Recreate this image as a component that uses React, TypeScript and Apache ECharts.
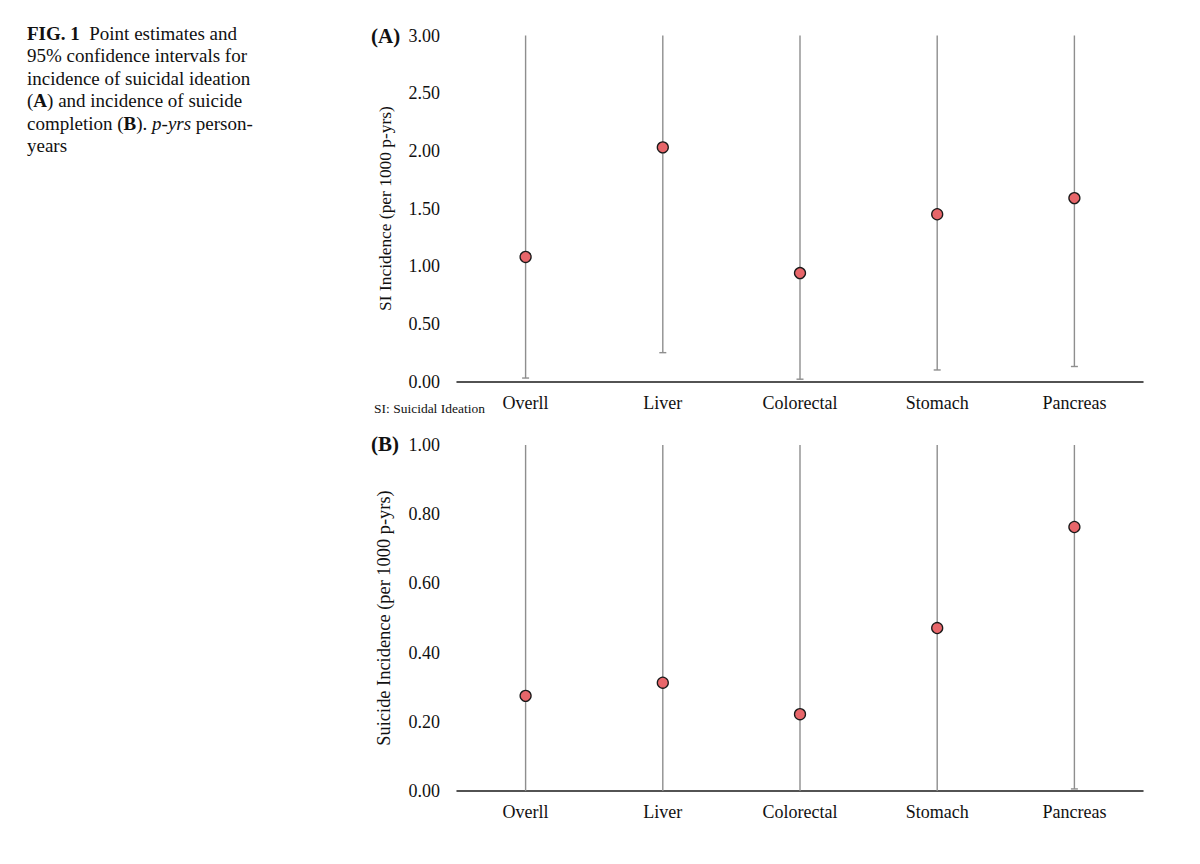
import React, { useEffect, useRef } from "react";
import * as echarts from "echarts";

const categories = ["Overll", "Liver", "Colorectal", "Stomach", "Pancreas"];

// Panel A: suicidal ideation incidence (per 1000 p-yrs)
const siEstimate = [1.08, 2.03, 0.94, 1.45, 1.59];
const siLower = [0.03, 0.25, 0.02, 0.1, 0.13];
// upper bounds exceed the axis maximum (drawn to the top of the plot)
const siUpper = [4.0, 4.0, 4.0, 4.0, 4.0];
const siTicks = [0, 0.5, 1.0, 1.5, 2.0, 2.5, 3.0];

// Panel B: suicide completion incidence (per 1000 p-yrs)
const scEstimate = [0.275, 0.313, 0.222, 0.471, 0.763];
const scLower = [0, 0, 0, 0, 0.006];
// upper bounds exceed the axis maximum (drawn to the top of the plot)
const scUpper = [1.4, 1.4, 1.4, 1.4, 1.4];
const scTicks = [0, 0.2, 0.4, 0.6, 0.8, 1.0];

// Figure caption: segments of [text, style] where style is n (normal), b (bold), i (italic)
const captionLines: [string, string][][] = [
  [["FIG. 1", "b"], ["  Point estimates and", "n"]],
  [["95% confidence intervals for", "n"]],
  [["incidence of suicidal ideation", "n"]],
  [["(", "n"], ["A", "b"], [") and incidence of suicide", "n"]],
  [["completion (", "n"], ["B", "b"], ["). ", "n"], ["p-yrs", "i"], [" person-", "n"]],
  [["years", "n"]],
];

const FONT = "Liberation Serif";
const CAP_SIZE = 19;
const CAP_LINE = 22.5;

function errorSeries(xIdx: number, lower: number[], upper: number[]) {
  return {
    type: "custom",
    xAxisIndex: xIdx,
    yAxisIndex: xIdx,
    z: 1,
    data: categories.map((_, i) => [i, lower[i], upper[i]]),
    renderItem: (params: any, api: any) => {
      const x = api.coord([api.value(0), 0])[0];
      const lo = api.coord([api.value(0), api.value(1)])[1];
      const hi = api.coord([api.value(0), api.value(2)])[1];
      const cs = params.coordSys;
      const top = Math.max(hi, cs.y);
      const bottom = Math.min(lo, cs.y + cs.height);
      const style = { stroke: "#8e8e8e", lineWidth: 1.4 };
      const children: any[] = [
        { type: "line", shape: { x1: x, y1: top, x2: x, y2: bottom }, style },
      ];
      if (lo < cs.y + cs.height - 0.5) {
        children.push({
          type: "line",
          shape: { x1: x - 3.5, y1: lo, x2: x + 3.5, y2: lo },
          style,
        });
      }
      return { type: "group", children };
    },
  };
}

function pointSeries(idx: number, values: number[]) {
  return {
    type: "scatter",
    xAxisIndex: idx,
    yAxisIndex: idx,
    z: 3,
    symbol: "circle",
    symbolSize: 11,
    itemStyle: { color: "#e8666a", borderColor: "#1a1a1a", borderWidth: 1.3, opacity: 1 },
    data: values.map((v, i) => [i, v]),
  };
}

function xAxis(idx: number) {
  return {
    type: "category",
    gridIndex: idx,
    data: categories,
    boundaryGap: true,
    axisLine: { show: true, lineStyle: { color: "#1a1a1a", width: 1.5 } },
    axisTick: { show: false },
    axisLabel: { color: "#111", fontFamily: FONT, fontSize: 18, margin: 12 },
    splitLine: { show: false },
  };
}

function yAxis(idx: number, ticks: number[], name: string, nameSize: number) {
  const max = ticks[ticks.length - 1];
  const interval = ticks[1] - ticks[0];
  return {
    type: "value",
    gridIndex: idx,
    min: ticks[0],
    max,
    interval,
    name,
    nameLocation: "middle",
    nameGap: 64,
    nameTextStyle: { color: "#111", fontFamily: FONT, fontSize: nameSize },
    axisLine: { show: false },
    axisTick: { show: false },
    splitLine: { show: false },
    axisLabel: {
      color: "#111",
      fontFamily: FONT,
      fontSize: 18,
      margin: 17,
      formatter: (v: number) => v.toFixed(2),
    },
  };
}

function captionGraphics() {
  const canvas = document.createElement("canvas");
  const ctx = canvas.getContext("2d") as CanvasRenderingContext2D;
  const out: any[] = [];
  captionLines.forEach((segs, li) => {
    let x = 27;
    const y = 33 + li * CAP_LINE;
    segs.forEach(([text, st]) => {
      const style: any = {
        text,
        fontFamily: FONT,
        fontSize: CAP_SIZE,
        fill: "#111",
        align: "left",
        verticalAlign: "middle",
      };
      let prefix = "";
      if (st === "b") {
        style.fontWeight = "bold";
        prefix = "bold ";
      }
      if (st === "i") {
        style.fontStyle = "italic";
        prefix = "italic ";
      }
      ctx.font = `${prefix}${CAP_SIZE}px "${FONT}"`;
      const w = ctx.measureText(text).width;
      out.push({ type: "text", x, y, style });
      x += w;
    });
  });
  return out;
}

export default function App() {
  const ref = useRef<HTMLDivElement>(null);
  useEffect(() => {
    if (!ref.current) return;
    const chart = echarts.init(ref.current, null, { renderer: "svg" });
    chart.setOption({
      animation: false,
      backgroundColor: "#ffffff",
      grid: [
        { left: 457, width: 686, top: 35.5, height: 346 },
        { left: 457, width: 686, top: 445, height: 346 },
      ],
      xAxis: [xAxis(0), xAxis(1)],
      yAxis: [
        yAxis(0, siTicks, "SI Incidence (per 1000 p-yrs)", 17.4),
        yAxis(1, scTicks, "Suicide Incidence (per 1000 p-yrs)", 18.4),
      ],
      series: [
        errorSeries(0, siLower, siUpper),
        pointSeries(0, siEstimate),
        errorSeries(1, scLower, scUpper),
        pointSeries(1, scEstimate),
      ],
      graphic: [
        ...captionGraphics(),
        {
          type: "text",
          left: 371,
          top: 25,
          style: { text: "(A)", fontFamily: FONT, fontSize: 21, fontWeight: "bold", fill: "#111" },
        },
        {
          type: "text",
          left: 371,
          top: 433,
          style: { text: "(B)", fontFamily: FONT, fontSize: 21, fontWeight: "bold", fill: "#111" },
        },
        {
          type: "text",
          left: 374,
          top: 401,
          style: { text: "SI: Suicidal Ideation", fontFamily: FONT, fontSize: 13.5, fill: "#111" },
        },
      ],
    });
    return () => chart.dispose();
  }, []);
  return (
    <div
      ref={ref}
      style={{ position: "absolute", left: 0, top: 0, width: 1200, height: 864, background: "#fff" }}
    />
  );
}
